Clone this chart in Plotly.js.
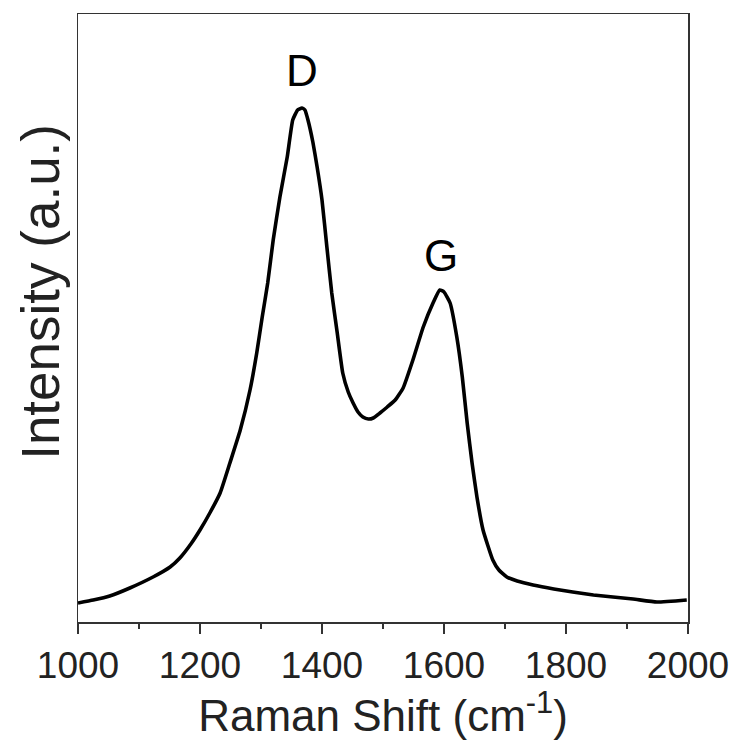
<!DOCTYPE html>
<html>
<head>
<meta charset="utf-8">
<script src="https://cdn.plot.ly/plotly-3.0.1.min.js"></script>
<style>html,body{margin:0;padding:0;background:#fff;}#chart{width:739px;height:740px;}</style>
</head>
<body>
<div id="chart"></div>
<script>
// Raman shift (cm^-1)
const ramanShift = [1000,1025,1052,1085,1123,1151,1167,1185,1200,1217,1233,1249,1266,1282,1293,1302,1311,1320,1331,1343,1352,1360,1367,1372,1377,1385,1392,1400,1408,1416,1425,1434,1443,1451,1459,1467,1476,1484,1495,1507,1520,1533,1549,1566,1582,1593,1600,1610,1621,1630,1638,1646,1654,1664,1680,1690,1703,1720,1746,1780,1811,1845,1877,1910,1949,1998];
// Intensity (arbitrary units)
const intensity = [19,22,26,34,45,55,64,78,92,110,129,159,192,232,269,305,339,382,425,465,502,512,514,512,502,480,455,422,375,329,289,249,230,219,210,205,203,204,209,215,222,234,262,295,319,332,330,319,285,245,199,159,125,92,62,52,45,41,37,33,30,27,25,23,20,22];
const xTickVals = [1000,1200,1400,1600,1800,2000];
const xTickText = ["1000","1200","1400","1600","1800","2000"];
const peakLabels = ["D","G"];
const peakX = [1367,1595];
const peakY = [552,367];
const yTitle = "Intensity (a.u.)";
const xTitle = "Raman Shift (cm<sup>-1</sup>)";

const font = "Arial, 'Liberation Sans', sans-serif";

const trace = {
  x: ramanShift, y: intensity, type: "scatter", mode: "lines",
  line: {color: "#000", width: 3.6, shape: "spline", smoothing: 0.4},
  hoverinfo: "skip"
};

const annotations = peakLabels.map((t, i) => ({
  x: peakX[i], y: peakY[i], xref: "x", yref: "y", text: t, showarrow: false,
  xanchor: "center", yanchor: "middle",
  font: {family: font, size: 44, color: "#000"}
}));
annotations.push({
  x: -0.0607, y: 0.543, xref: "paper", yref: "paper", text: yTitle, showarrow: false,
  textangle: -90, xanchor: "center", yanchor: "middle",
  font: {family: font, size: 53, color: "#222"}
});

const layout = {
  width: 739, height: 740,
  margin: {l: 78, r: 51, t: 14, b: 118},
  paper_bgcolor: "#fff", plot_bgcolor: "#fff",
  showlegend: false,
  font: {family: font, color: "#000"},
  xaxis: {
    range: [1000, 2000],
    tickmode: "array", tickvals: xTickVals, ticktext: xTickText,
    ticks: "outside", ticklen: 10, tickwidth: 1.5, tickcolor: "#333",
    minor: {dtick: 100, tick0: 1000, ticks: "outside", ticklen: 5, tickwidth: 1.5, tickcolor: "#333"},
    showline: true, linecolor: "#333", linewidth: 1.5, mirror: true,
    showgrid: false, zeroline: false,
    tickfont: {family: font, size: 37, color: "#222"},
    title: {text: xTitle, font: {family: font, size: 44, color: "#222"}, standoff: 9}
  },
  yaxis: {
    range: [0, 608],
    showticklabels: false, ticks: "",
    showline: true, linecolor: "#333", linewidth: 1.5, mirror: true,
    showgrid: false, zeroline: false
  },
  annotations: annotations
};

Plotly.newPlot("chart", [trace], layout, {displayModeBar: false, staticPlot: true});
</script>
</body>
</html>
